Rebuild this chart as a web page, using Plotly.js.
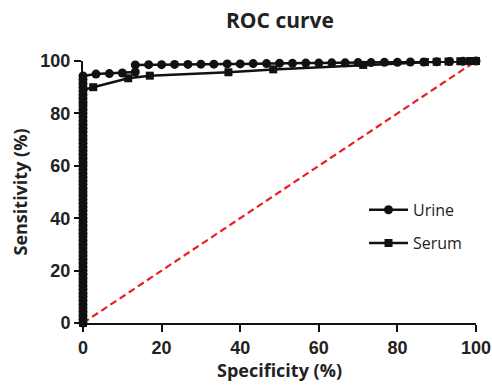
<!DOCTYPE html>
<html>
<head>
<meta charset="utf-8">
<script src="https://cdn.plot.ly/plotly-3.0.1.min.js"></script>
<style>html,body{margin:0;padding:0;background:#fff;}#chart{width:492px;height:389px;}</style>
</head>
<body>
<div id="chart"></div>
<script>
// Urine ROC points (specificity %, sensitivity %)
const urineSpec = [0,0,0,0,0,0,0,0,0,0,0,0,0,0,0,0,0,0,0,0,0,0,0,0,0,0,0,0,0,0,0,0,0,0,0,0,0,0,0,0,0,0,0,0,0,0,0,0,0,0,0,0,0,0,0,0,0,0,0,0,0,0,0,0,0,0,0,
  3.3,6.7,10,13.3,13.3,16.7,20,23.3,26.7,30,33.3,36.7,40,43.3,46.7,50,53.3,56.7,60,63.3,66.7,70,73.3,76.7,80,83.3,86.7,90,93.3,96.7,100];
const urineSens = [0,1.4,2.9,4.3,5.7,7.1,8.6,10,11.4,12.9,14.3,15.7,17.1,18.6,20,21.4,22.9,24.3,25.7,27.1,28.6,30,31.4,32.9,34.3,35.7,37.1,38.6,40,41.4,42.9,44.3,45.7,47.1,48.6,50,51.4,52.9,54.3,55.7,57.1,58.6,60,61.4,62.9,64.3,65.7,67.1,68.6,70,71.4,72.9,74.3,75.7,77.1,78.6,80,81.4,82.9,84.3,85.7,87.1,88.6,90,91.4,92.9,94.3,
  95,95.2,95.4,95.8,98.5,98.6,98.6,98.7,98.7,98.8,98.8,98.9,98.9,99,99,99.1,99.1,99.2,99.2,99.3,99.3,99.4,99.4,99.5,99.5,99.6,99.6,99.7,99.8,99.9,100];
// Serum ROC points
const serumSpec = [0,0,0,0,0,0,0,0,0,0,0,0,0,0,0,0,0,0,0,0,0,0,0,0,0,0,0,
  2.6,11.5,17,37,48.4,71.3,87,90,93,96,98.5,100];
const serumSens = [0,3.3,6.7,10,13.3,16.7,20,23.3,26.7,30,33.3,36.7,40,43.3,46.7,50,53.3,56.7,60,63.3,66.7,70,73.3,76.7,80,83.3,88.9,
  90,93.4,94.4,95.7,96.8,98.5,99.6,99.7,99.8,99.9,100,100];
// Reference (chance) line
const refSpec = [0,100];
const refSens = [0,100];
const xTicks = [0,20,40,60,80,100];
const yTicks = [0,20,40,60,80,100];

const traces = [
  {x: refSpec, y: refSens, mode: 'lines', line: {color: '#ec1c24', width: 2.2, dash: '7px,4px'}, showlegend: false, hoverinfo: 'skip'},
  {x: serumSpec, y: serumSens, mode: 'lines+markers', name: 'Serum', legend: 'legend2',
   line: {color: '#111', width: 2.5}, marker: {symbol: 'square', size: 8, color: '#111'}, cliponaxis: false},
  {x: urineSpec, y: urineSens, mode: 'lines+markers', name: 'Urine', legend: 'legend',
   line: {color: '#111', width: 2.5}, marker: {symbol: 'circle', size: 9, color: '#111'}, cliponaxis: false}
];

const tickFont = {family: 'Arial, "Liberation Sans", sans-serif', size: 18, color: '#222', weight: 'bold'};
const titleFont = {family: '"Open Sans", sans-serif', size: 18, color: '#222', weight: 'bold'};
const legFont = {family: '"Open Sans", sans-serif', size: 16, color: '#222'};

const layout = {
  width: 492, height: 389,
  margin: {l: 83, r: 16, t: 61, b: 66},
  paper_bgcolor: '#fff', plot_bgcolor: '#fff',
  title: {text: 'ROC curve', font: {family: '"Open Sans", sans-serif', size: 21, color: '#222', weight: 'bold'},
          x: 0.569, xanchor: 'center', y: 0.948, yanchor: 'middle'},
  xaxis: {range: [0, 100], tickvals: xTicks, ticktext: xTicks.map(String), showgrid: false, zeroline: false,
          showline: true, linecolor: '#111', linewidth: 2, ticks: 'outside', ticklen: 7, tickwidth: 2, tickcolor: '#111',
          tickfont: tickFont, title: {text: 'Specificity (%)', font: titleFont, standoff: 8}},
  yaxis: {range: [0, 100], tickvals: yTicks, ticktext: yTicks.map(String), showgrid: false, zeroline: false,
          showline: true, linecolor: '#111', linewidth: 2, ticks: 'outside', ticklen: 7, tickwidth: 2, tickcolor: '#111',
          tickfont: tickFont, title: {text: 'Sensitivity (%)', font: titleFont, standoff: 8}},
  legend: {x: 0.715, xanchor: 'left', y: 0.432, yanchor: 'middle', font: legFont, bgcolor: 'rgba(0,0,0,0)', itemwidth: 39},
  legend2: {x: 0.715, xanchor: 'left', y: 0.305, yanchor: 'middle', font: legFont, bgcolor: 'rgba(0,0,0,0)', itemwidth: 39},
  showlegend: true
};

Plotly.newPlot('chart', traces, layout, {displayModeBar: false, staticPlot: true});
</script>
</body>
</html>
